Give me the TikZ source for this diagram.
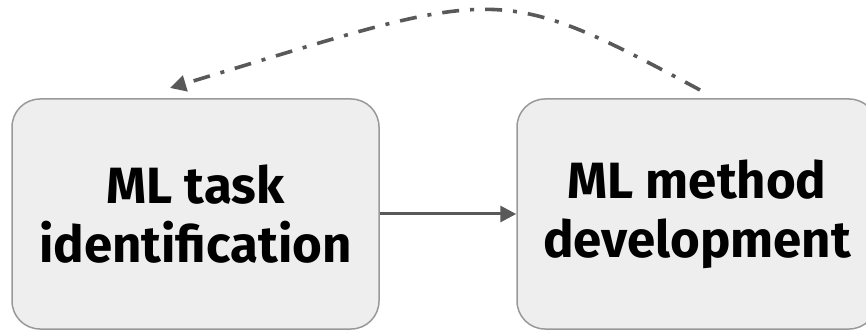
\documentclass[tikz,border=0pt]{standalone}
\usepackage{fontspec}
\setmainfont{Fira Sans}
\usetikzlibrary{arrows.meta,positioning}
\definecolor{boxfill}{HTML}{EEEEEE}
\definecolor{boxline}{HTML}{999999}
\definecolor{arrowgray}{HTML}{595959}
\tikzset{
  stagebox/.style={draw=boxline,line width=0.75pt,fill=boxfill,rounded corners=14pt,
    align=center,font=\bfseries\fontsize{25.5}{29.5}\selectfont,inner sep=0pt},
  flow/.style={draw=arrowgray,line width=1.5pt,-{Triangle[length=8pt,width=8pt]}},
  loopback/.style={flow,line width=1.8pt,dash pattern=on 8.5pt off 5.5pt on 2pt off 5.5pt}
}
\begin{document}
\begin{tikzpicture}[x=0.5pt,y=-0.5pt]
\useasboundingbox (0,0) rectangle (866,331);
\node[stagebox,minimum width=183.5pt,minimum height=115pt] (task) at (195.5,214) {ML task\\identification};
\node[stagebox,minimum width=180pt,minimum height=115pt] (method) at (697,214) {ML method\\development};
\coordinate (loopstart) at (700,90);
\coordinate (loopend) at (170,88);
\draw[flow] (task.east) -- (method.west);
\draw[loopback] (loopstart) .. controls (492,-22) and (499,-11) .. (loopend);
\end{tikzpicture}
\end{document}
